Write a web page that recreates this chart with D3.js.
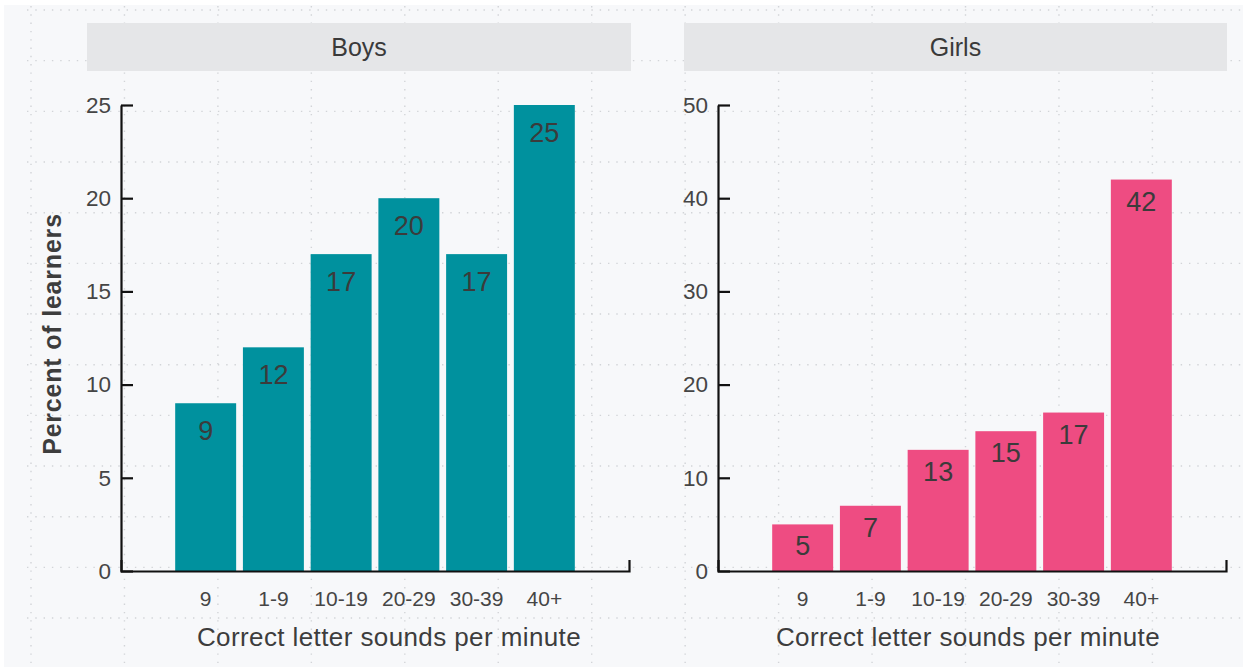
<!DOCTYPE html>
<html>
<head>
<meta charset="utf-8">
<script src="https://cdn.jsdelivr.net/npm/d3@7"></script>
<style>
  body { margin: 0; background: #ffffff; }
  svg { display: block; font-family: "Liberation Sans", Arial, Helvetica, sans-serif; }
</style>
</head>
<body>
<svg id="chart" width="1243" height="668"></svg>
<script>
// Reading fluency: share of learners by correct letter sounds per minute
const categories = ["9", "1-9", "10-19", "20-29", "30-39", "40+"];
const boysValues = [9, 12, 17, 20, 17, 25];
const girlsValues = [5, 7, 13, 15, 17, 42];
const boysTicks = [0, 5, 10, 15, 20, 25];
const girlsTicks = [0, 10, 20, 30, 40, 50];
const panelTitles = ["Boys", "Girls"];
const xTitle = "Correct letter sounds per minute";
const yTitle = "Percent of learners";

const W = 1243, H = 668;
const yTop = 105, yBottom = 571;

const panels = [
  { title: panelTitles[0], values: boysValues, ticks: boysTicks, color: "#00919e",
    axisX0: 121, axisX1: 629, stripX0: 87, stripX1: 631, titleX: 389, labelOffset: 28 },
  { title: panelTitles[1], values: girlsValues, ticks: girlsTicks, color: "#ee4c82",
    axisX0: 718, axisX1: 1226, stripX0: 684, stripX1: 1227, titleX: 968, labelOffset: 22 }
];

const svg = d3.select("#chart");

// page background with dotted guide grid
svg.append("rect").attr("x", 4).attr("y", 5).attr("width", W - 4).attr("height", H - 6)
  .attr("fill", "#f7f8fa");

const grid = svg.append("g").attr("stroke", "#d2d4d8").attr("stroke-width", 1.4)
  .attr("stroke-dasharray", "1.4 6.9");
const gridX = d3.range(13).map(k => 31 + k * 93.45);
const gridY = d3.range(13).map(k => 10 + k * 50.67);
grid.selectAll("line.v").data(gridX).join("line").attr("class", "v")
  .attr("x1", d => d).attr("x2", d => d).attr("y1", 6).attr("y2", H - 2);
grid.selectAll("line.h").data(gridY).join("line").attr("class", "h")
  .attr("x1", 27).attr("x2", W).attr("y1", d => d).attr("y2", d => d);

panels.forEach(p => {
  const g = svg.append("g");

  const x = d3.scaleBand().domain(categories).range([p.axisX0, p.axisX1])
    .paddingInner(0.1).paddingOuter(0.8);
  const y = d3.scaleLinear().domain([0, d3.max(p.ticks)]).range([yBottom, yTop]);

  // facet strip
  g.append("rect").attr("x", p.stripX0).attr("y", 23)
    .attr("width", p.stripX1 - p.stripX0).attr("height", 48).attr("fill", "#e5e6e8");
  g.append("text").attr("x", (p.stripX0 + p.stripX1) / 2).attr("y", 47)
    .attr("text-anchor", "middle").attr("dominant-baseline", "central")
    .attr("font-size", 25).attr("fill", "#3a3a3a").text(p.title);

  // bars
  g.selectAll("rect.bar").data(p.values).join("rect").attr("class", "bar")
    .attr("x", (d, i) => x(categories[i])).attr("width", x.bandwidth())
    .attr("y", d => y(d)).attr("height", d => y(0) - y(d)).attr("fill", p.color);

  // value labels
  g.selectAll("text.val").data(p.values).join("text").attr("class", "val")
    .attr("x", (d, i) => x(categories[i]) + x.bandwidth() / 2)
    .attr("y", d => y(d) + p.labelOffset)
    .attr("text-anchor", "middle").attr("dominant-baseline", "central")
    .attr("font-size", 27).attr("fill", "#3b3b3b").text(d => d);

  // y axis
  const ya = g.append("g").attr("transform", `translate(${p.axisX0},0)`)
    .call(d3.axisLeft(y).tickValues(p.ticks).tickSize(-12).tickSizeOuter(0).tickPadding(10));
  ya.select(".domain").attr("stroke", "#111").attr("stroke-width", 2.2);
  ya.selectAll(".tick line").attr("stroke", "#111").attr("stroke-width", 2.2);
  ya.selectAll(".tick text").attr("font-size", 22.5).attr("fill", "#454545");

  // x axis
  const xa = g.append("g").attr("transform", `translate(0,${yBottom})`)
    .call(d3.axisBottom(x).tickSizeInner(0).tickSizeOuter(-11).tickPadding(20));
  xa.select(".domain").attr("stroke", "#111").attr("stroke-width", 2.2).attr("fill", "none");
  xa.selectAll(".tick text").attr("font-size", 21).attr("fill", "#454545");

  // x axis title
  g.append("text").attr("x", p.titleX).attr("y", 637)
    .attr("text-anchor", "middle").attr("dominant-baseline", "central")
    .attr("font-size", 26).attr("letter-spacing", 0.4).attr("fill", "#3d3d3d").text(xTitle);
});

// y axis title
svg.append("text").attr("transform", "translate(52,334) rotate(-90)")
  .attr("text-anchor", "middle").attr("dominant-baseline", "central")
  .attr("font-size", 25).attr("font-weight", "bold").attr("letter-spacing", 0.8)
  .attr("fill", "#3d3d3d").text(yTitle);

// axis groups keep the svg font family
svg.selectAll(".tick text").style("font-family", "inherit");
</script>
</body>
</html>
